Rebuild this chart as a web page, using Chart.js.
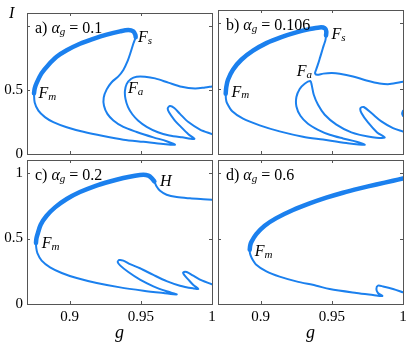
<!DOCTYPE html>
<html>
<head>
<meta charset="utf-8">
<script src="https://cdn.jsdelivr.net/npm/chart.js@4"></script>
<style>
  html, body { margin: 0; padding: 0; background: #fff; }
  #wrap { position: relative; width: 415px; height: 346px; }
  #wrap canvas { position: absolute; left: 0; top: 0; }
</style>
</head>
<body>
<div id="wrap">
  <canvas id="pa" width="415" height="346"></canvas>
  <canvas id="pb" width="415" height="346"></canvas>
  <canvas id="pc" width="415" height="346"></canvas>
  <canvas id="pd" width="415" height="346"></canvas>
</div>
<script>
// axis ranges and ticks
const gMin = 0.87, gMax = 1;
const iMin = 0, iMax = 1.1;
const gTicks = [0.9, 0.95, 1];
const iTicks = [0, 0.5, 1];
const iLabelsTop = [0, 0.5];
const iLabelsBottom = [0, 0.5, 1];

// a) alpha_g = 0.1
const aStableG = [0.8749, 0.8755, 0.8768, 0.8803, 0.8850, 0.8908, 0.8979, 0.9072, 0.9166, 0.9260, 0.9354, 0.9412, 0.9447, 0.9461, 0.9464];
const aStableI = [0.473, 0.515, 0.555, 0.631, 0.695, 0.758, 0.809, 0.860, 0.898, 0.931, 0.957, 0.967, 0.957, 0.931, 0.911];
const aLoopG = [0.9464, 0.9447, 0.9429, 0.9405, 0.9377, 0.9342, 0.9295, 0.9260, 0.9239, 0.9241, 0.9265, 0.9307, 0.9377, 0.9471, 0.9588, 0.9681, 0.9740,
  0.9658, 0.9518, 0.9377, 0.9236, 0.9096, 0.8979, 0.8885, 0.8826, 0.8780, 0.8754, 0.8749];
const aLoopI = [0.911, 0.860, 0.796, 0.720, 0.656, 0.606, 0.560, 0.504, 0.440, 0.377, 0.313, 0.262, 0.211, 0.172, 0.130, 0.100, 0.072,
  0.078, 0.095, 0.112, 0.140, 0.173, 0.209, 0.249, 0.288, 0.338, 0.402, 0.473];
const aBranchG = [1.0, 0.9951, 0.9881, 0.9787, 0.9693, 0.9600, 0.9529, 0.9470, 0.9430, 0.9400, 0.9388, 0.9392, 0.9410, 0.9440, 0.9480, 0.9541, 0.9620, 0.9700, 0.9790, 0.9876,
  0.9834, 0.9787, 0.9735, 0.9698, 0.9689, 0.9705, 0.9735, 0.9775, 0.9834, 0.9916, 1.0];
const aBranchI = [0.527, 0.519, 0.511, 0.524, 0.557, 0.590, 0.603, 0.603, 0.585, 0.545, 0.490, 0.430, 0.365, 0.310, 0.262, 0.212, 0.170, 0.145, 0.130, 0.118,
  0.155, 0.206, 0.267, 0.325, 0.356, 0.374, 0.359, 0.313, 0.249, 0.191, 0.155];

// b) alpha_g = 0.106
const bStableG = [0.8754, 0.8758, 0.8770, 0.8805, 0.8864, 0.8946, 0.9040, 0.9145, 0.9250, 0.9344, 0.9414, 0.9450, 0.9461, 0.9459];
const bStableI = [0.460, 0.510, 0.567, 0.644, 0.720, 0.789, 0.847, 0.893, 0.929, 0.954, 0.967, 0.962, 0.936, 0.905];
const bUpperG = [0.9459, 0.9455, 0.9443, 0.9432, 0.9418, 0.9404, 0.9390, 0.9382, 0.9396, 0.9440, 0.9500, 0.9555, 0.9649, 0.9743, 0.9836, 0.9907, 1.0];
const bUpperI = [0.905, 0.870, 0.830, 0.790, 0.740, 0.690, 0.645, 0.617, 0.605, 0.614, 0.618, 0.613, 0.592, 0.562, 0.539, 0.534, 0.552];
const bLowerG = [0.8754, 0.8756, 0.8763, 0.8800, 0.8876, 0.8993, 0.9133, 0.9297, 0.9438, 0.9602, 0.9731,
  0.9673, 0.9578, 0.9485, 0.9403, 0.9332, 0.9279, 0.9251, 0.9251, 0.9274, 0.9309, 0.9349,
  0.9358, 0.9373, 0.9403, 0.9450, 0.9532, 0.9637, 0.9754, 0.9871,
  0.9818, 0.9754, 0.9708, 0.9701, 0.9724, 0.9778, 0.9848, 0.9930, 1.0];
const bLowerI = [0.460, 0.420, 0.389, 0.326, 0.270, 0.219, 0.173, 0.132, 0.110, 0.084, 0.070,
  0.094, 0.119, 0.147, 0.185, 0.231, 0.292, 0.363, 0.435, 0.496, 0.537, 0.557,
  0.529, 0.453, 0.376, 0.300, 0.224, 0.165, 0.134, 0.125,
  0.165, 0.241, 0.313, 0.351, 0.359, 0.313, 0.249, 0.198, 0.172];
const bEdgeG = [1.0, 0.9994, 1.0];
const bEdgeI = [0.33, 0.31, 0.29];

// c) alpha_g = 0.2
const cStableG = [0.8763, 0.8766, 0.8773, 0.8796, 0.8838, 0.8897, 0.8979, 0.9072, 0.9178, 0.9283, 0.9377, 0.9459, 0.9518, 0.9553, 0.9576, 0.9595];
const cStableI = [0.466, 0.500, 0.529, 0.606, 0.674, 0.738, 0.802, 0.855, 0.901, 0.936, 0.962, 0.980, 0.987, 0.980, 0.962, 0.936];
const cUpperG = [0.9595, 0.9611, 0.9635, 0.9681, 0.9752, 0.9845, 0.9939, 1.0];
const cUpperI = [0.936, 0.898, 0.865, 0.835, 0.817, 0.807, 0.800, 0.796];
const cLowerG = [0.8763, 0.8765, 0.8773, 0.8803, 0.8862, 0.8944, 0.9049, 0.9190, 0.9354, 0.9518, 0.9658, 0.9752,
  0.9681, 0.9588, 0.9494, 0.9412, 0.9354, 0.9337, 0.9349, 0.9377, 0.9424, 0.9494, 0.9588, 0.9681, 0.9775, 0.9869, 0.9904,
  0.9869, 0.9834, 0.9803, 0.9798, 0.9822, 0.9869, 0.9928, 1.0];
const cLowerI = [0.466, 0.430, 0.389, 0.331, 0.280, 0.237, 0.198, 0.160, 0.127, 0.102, 0.084, 0.073,
  0.097, 0.135, 0.186, 0.244, 0.295, 0.321, 0.336, 0.331, 0.305, 0.273, 0.222, 0.175, 0.140, 0.119, 0.115,
  0.145, 0.186, 0.224, 0.241, 0.244, 0.216, 0.180, 0.151];

// d) alpha_g = 0.6
const dStableG = [0.8923, 0.8926, 0.8934, 0.8969, 0.9028, 0.9110, 0.9227, 0.9344, 0.9461, 0.9578, 0.9696, 0.9813, 0.9930, 1.0];
const dStableI = [0.415, 0.445, 0.473, 0.534, 0.598, 0.656, 0.718, 0.768, 0.812, 0.850, 0.883, 0.913, 0.941, 0.959];
const dLowerG = [0.8923, 0.8925, 0.8937, 0.8969, 0.9040, 0.9133, 0.9250, 0.9391, 0.9485, 0.9673, 0.9789, 0.9855,
  0.9824, 0.9813, 0.9824, 0.9860, 0.9930, 1.0];
const dLowerI = [0.415, 0.385, 0.351, 0.300, 0.249, 0.209, 0.173, 0.140, 0.114, 0.084, 0.069, 0.061,
  0.084, 0.115, 0.140, 0.134, 0.115, 0.089];

const blue = "#1b80ee";
const ink = "#555555";
const serif = "'Liberation Serif', 'DejaVu Serif', serif";

const pts = (gs, is) => gs.map((g, k) => ({ x: g, y: is[k] }));
function curve(gs, is, w) {
  return {
    data: pts(gs, is), borderColor: blue, borderWidth: w, showLine: true,
    pointRadius: 0, tension: 0.3, borderJoinStyle: "round", borderCapStyle: "round", fill: false,
  };
}

// draws text pieces in a row: [text, italic, size, dy]
function rich(ctx, parts, x, y) {
  let cx = x;
  for (const [t, it, size, dy] of parts) {
    ctx.font = (it ? "italic " : "") + size + "px " + serif;
    ctx.fillText(t, cx, y + dy);
    cx += ctx.measureText(t).width;
  }
}

const marks = {
  id: "marks",
  afterDraw(chart, args, opts) {
    const { ctx, chartArea: a, scales: { x, y } } = chart;
    ctx.save();
    ctx.strokeStyle = ink;
    ctx.lineWidth = 1;
    ctx.strokeRect(Math.round(a.left) + 0.5, Math.round(a.top) + 0.5, Math.round(a.width), Math.round(a.height));
    ctx.beginPath();
    for (const g of gTicks) {
      const px = Math.round(x.getPixelForValue(g)) + 0.5;
      ctx.moveTo(px, a.bottom); ctx.lineTo(px, a.bottom - 3);
      ctx.moveTo(px, a.top); ctx.lineTo(px, a.top + 3);
    }
    for (const v of iTicks) {
      const py = Math.round(y.getPixelForValue(v)) + 0.5;
      ctx.moveTo(a.left, py); ctx.lineTo(a.left + 3, py);
      ctx.moveTo(a.right, py); ctx.lineTo(a.right - 3, py);
    }
    ctx.stroke();

    ctx.fillStyle = "#000";
    ctx.textBaseline = "middle";
    ctx.textAlign = "left";
    rich(ctx, [[opts.tag + ") ", false, 16, 0], ["\u03b1", true, 16, 0], ["g", true, 11, 3], [" = " + opts.alpha, false, 16, 0]], a.left + 8, a.top + 16);
    for (const [main, sub, g, v] of opts.labels) {
      rich(ctx, [[main, true, 16, 0], [sub, true, 11, 3]], x.getPixelForValue(g), y.getPixelForValue(v));
    }
    if (opts.yTitle) rich(ctx, [["I", true, 16, 0]], a.left - 18, a.top + 1);
    ctx.restore();
  },
};

function make(id, rect, datasets, showG, iLabels, opts) {
  const yw = iLabels ? 27 : 0;
  const xh = showG ? 42 : 0;
  const tickFont = { family: serif, size: 15 };
  new Chart(document.getElementById(id), {
    type: "scatter",
    data: { datasets },
    plugins: [marks],
    options: {
      responsive: false, animation: false, devicePixelRatio: 1,
      layout: { padding: { left: rect[0] - yw, top: rect[1], right: 415 - rect[2], bottom: 346 - rect[3] - xh } },
      plugins: { legend: { display: false }, tooltip: { enabled: false }, marks: opts },
      scales: {
        x: {
          type: "linear", min: gMin, max: gMax, display: showG,
          afterBuildTicks: (s) => { s.ticks = gTicks.map((v) => ({ value: v })); },
          afterFit: (s) => { s.height = xh; },
          grid: { display: false, drawTicks: false }, border: { display: false },
          ticks: { font: tickFont, color: "#000", padding: 4, maxRotation: 0, autoSkip: false, callback: (v) => String(v) },
          title: { display: true, text: "g", color: "#000", font: { family: serif, size: 18, style: "italic" }, padding: { top: 0, bottom: 2 } },
        },
        y: {
          type: "linear", min: iMin, max: iMax, display: !!iLabels,
          afterBuildTicks: (s) => { s.ticks = (iLabels || []).map((v) => ({ value: v })); },
          afterFit: (s) => { s.width = yw; },
          grid: { display: false, drawTicks: false }, border: { display: false },
          ticks: { font: tickFont, color: "#000", padding: 4, autoSkip: false, callback: (v) => String(v) },
        },
      },
    },
  });
}

make("pa", [27, 10, 212, 154], [
  curve(aStableG, aStableI, 4.5), curve(aLoopG, aLoopI, 2), curve(aBranchG, aBranchI, 2),
], false, iLabelsTop, { tag: "a", alpha: "0.1", yTitle: true,
  labels: [["F", "s", 0.948, 0.905], ["F", "m", 0.878, 0.468], ["F", "a", 0.941, 0.506]] });

make("pb", [218, 10, 403, 154], [
  curve(bStableG, bStableI, 4.5), curve(bUpperG, bUpperI, 2), curve(bLowerG, bLowerI, 2), curve(bEdgeG, bEdgeI, 2),
], false, null, { tag: "b", alpha: "0.106",
  labels: [["F", "s", 0.9497, 0.911], ["F", "a", 0.9253, 0.628], ["F", "m", 0.8794, 0.47]] });

make("pc", [27, 160, 212, 304], [
  curve(cStableG, cStableI, 4.5), curve(cUpperG, cUpperI, 2), curve(cLowerG, cLowerI, 2),
], true, iLabelsBottom, { tag: "c", alpha: "0.2",
  labels: [["H", "", 0.9635, 0.934], ["F", "m", 0.8803, 0.46]] });

make("pd", [218, 160, 403, 304], [
  curve(dStableG, dStableI, 4.5), curve(dLowerG, dLowerI, 2),
], true, null, { tag: "d", alpha: "0.6",
  labels: [["F", "m", 0.8958, 0.40]] });
</script>
</body>
</html>
